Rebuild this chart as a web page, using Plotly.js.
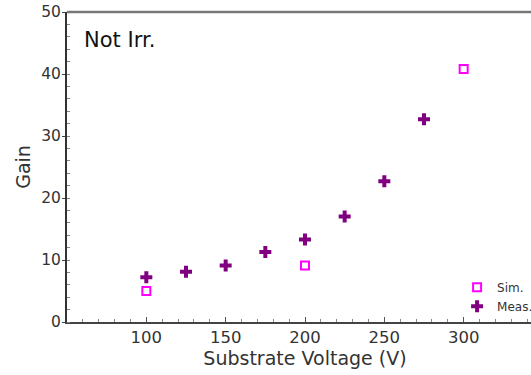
<!DOCTYPE html>
<html>
<head>
<meta charset="utf-8">
<script src="https://cdn.plot.ly/plotly-3.0.1.min.js"></script>
<style>html,body{margin:0;padding:0;overflow:hidden;background:#fff;}</style>
</head>
<body>
<div id="chart" style="width:560px;height:375px;"></div>
<script>
const simVoltage = [100, 200, 300];
const simGain = [5.0, 9.1, 40.8];
const measVoltage = [100, 125, 150, 175, 200, 225, 250, 275];
const measGain = [7.2, 8.1, 9.1, 11.3, 13.3, 17.0, 22.7, 32.7];
const xTicks = [100, 150, 200, 250, 300];
const yTicks = [0, 10, 20, 30, 40, 50];

const fontFam = 'DejaVu Sans, sans-serif';
const traces = [
  {x: simVoltage, y: simGain, type: 'scatter', mode: 'markers', name: 'Sim.',
   marker: {symbol: 'square-open', size: 8, color: '#ff00ff', line: {width: 2, color: '#ff00ff'}}},
  {x: measVoltage, y: measGain, type: 'scatter', mode: 'markers', name: 'Meas.',
   marker: {symbol: 'cross', size: 10, color: '#800080', line: {width: 0}}}
];
const layout = {
  width: 560, height: 375,
  margin: {l: 66.5, r: 17, t: 12, b: 52.5},
  paper_bgcolor: '#fff', plot_bgcolor: '#fff',
  font: {family: fontFam, color: '#333', size: 14},
  showlegend: true,
  legend: {x: 0.8195, y: 0.159, xanchor: 'left', yanchor: 'top', font: {size: 12, color: '#333'},
           bgcolor: 'rgba(0,0,0,0)', itemwidth: 30, tracegroupgap: 0},
  xaxis: {range: [50, 350], tickvals: xTicks, ticks: 'inside', ticklen: 5, tickcolor: '#555',
          showline: true, linecolor: '#444', linewidth: 1.5, showgrid: false, zeroline: false,
          mirror: false, tickfont: {size: 16.5, color: '#333'},
          minor: {dtick: 10, ticks: 'inside', ticklen: 3, tickcolor: '#888'},
          title: {text: 'Substrate Voltage (V)', font: {size: 19, color: '#333'}, standoff: 4}},
  yaxis: {range: [0, 50], tickvals: yTicks, ticks: 'outside', ticklen: 3, tickcolor: '#444',
          showline: true, linecolor: '#333', linewidth: 2, showgrid: false, zeroline: false,
          tickfont: {size: 15.5, color: '#333'}, ticklabelstandoff: -2,
          minor: {dtick: 2, ticks: 'inside', ticklen: 3, tickcolor: '#888'},
          title: {text: 'Gain', font: {size: 19, color: '#333'}, standoff: 6}},
  shapes: [{type: 'line', xref: 'paper', yref: 'paper', x0: 0, x1: 1, y0: 1, y1: 1,
            line: {color: '#777', width: 2.5}}],
  annotations: [{text: 'Not Irr.', xref: 'paper', yref: 'paper', x: 0.032, y: 0.955,
                 xanchor: 'left', yanchor: 'top', showarrow: false,
                 font: {size: 21, color: '#111', family: fontFam}}]
};
Plotly.newPlot('chart', traces, layout, {displayModeBar: false, staticPlot: true});
</script>
</body>
</html>
